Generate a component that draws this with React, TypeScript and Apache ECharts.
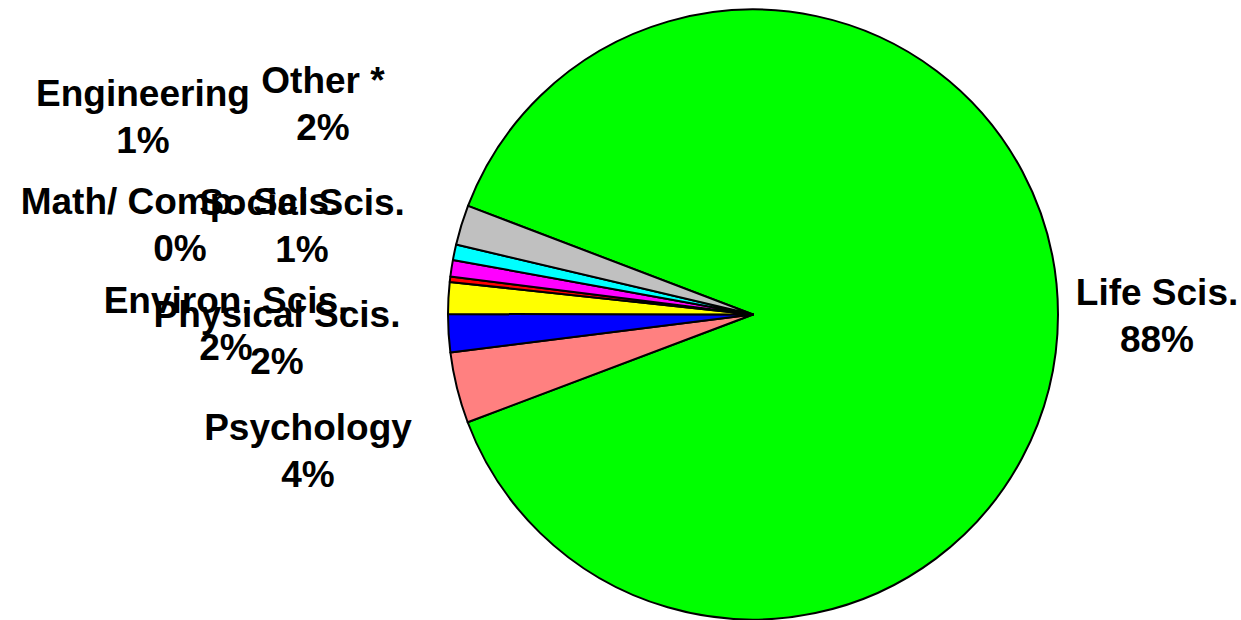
import React, { useEffect, useRef } from "react";
import * as echarts from "echarts";

const categories = [
  "Life Scis.",
  "Psychology",
  "Physical Scis.",
  "Environ. Scis.",
  "Math/ Comp. Scis.",
  "Social Scis.",
  "Engineering",
  "Other *",
];
const values = [88.46, 3.76, 2.01, 1.68, 0.28, 0.88, 0.82, 2.11];
const colors = ["#00FF00", "#FF8080", "#0000FF", "#FFFF00", "#FF0000", "#FF00FF", "#00FFFF", "#C0C0C0"];
const labelPositions: [number, number][] = [
  [1157, 316],
  [308, 451],
  [277, 337.5],
  [226, 324],
  [180, 225],
  [302, 225.5],
  [143, 116.5],
  [323, 104],
];

export default function App() {
  const ref = useRef<HTMLDivElement>(null);
  useEffect(() => {
    document.body.style.margin = "0";
    const chart = echarts.init(ref.current!, null, { renderer: "svg" });
    chart.setOption({
      animation: false,
      backgroundColor: "#ffffff",
      series: [
        {
          type: "pie",
          center: [753, 314.5],
          radius: 305,
          startAngle: 159.14,
          clockwise: true,
          avoidLabelOverlap: false,
          data: categories.map((name, i) => ({
            name,
            value: values[i],
            itemStyle: { color: colors[i] },
          })),
          itemStyle: { borderColor: "#000000", borderWidth: 2 },
          emphasis: { disabled: true },
          label: {
            show: true,
            position: "outside",
            formatter: (p: any) => `${p.name}\n${Math.round(p.percent)}%`,
            color: "#000000",
            fontFamily: "'Liberation Sans', Arial, sans-serif",
            fontWeight: "bold",
            fontSize: 37,
            lineHeight: 47,
            align: "center",
          },
          labelLine: { show: false },
          labelLayout: (params: any) => {
            const p = labelPositions[params.dataIndex];
            return {
              x: p[0],
              y: p[1],
              align: "center",
              verticalAlign: "middle",
              hideOverlap: false,
            };
          },
        },
      ],
    });
    return () => chart.dispose();
  }, []);
  return <div ref={ref} style={{ width: 1241, height: 620 }} />;
}
